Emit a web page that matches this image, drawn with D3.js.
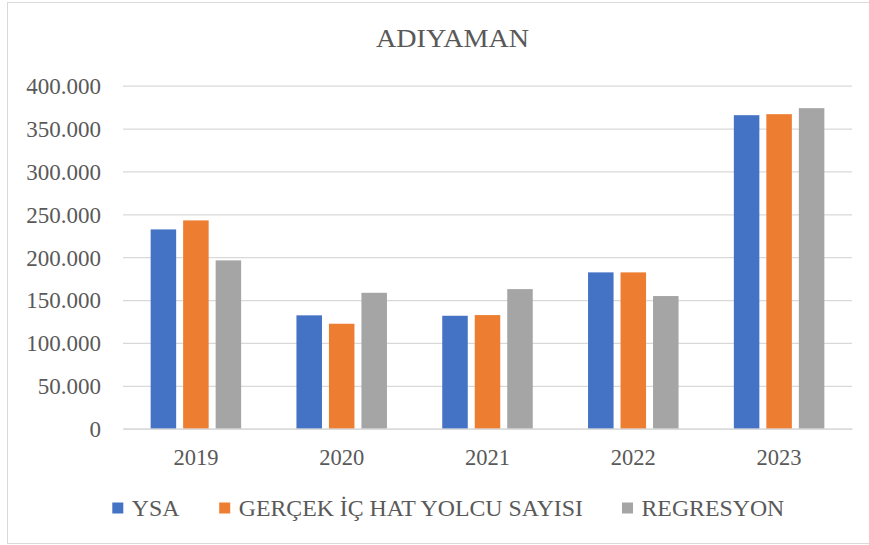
<!DOCTYPE html>
<html>
<head>
<meta charset="utf-8">
<script src="https://cdn.jsdelivr.net/npm/d3@7"></script>
<style>
  html, body { margin: 0; padding: 0; background: #fff; }
  svg { display: block; }
  text { font-family: "Liberation Serif", "Times New Roman", serif; fill: #595959; }
</style>
</head>
<body>
<svg id="chart" width="869" height="545"></svg>
<script>
// Yearly domestic passenger numbers for Adıyaman: ANN estimate, actual, regression
const years = ["2019", "2020", "2021", "2022", "2023"];
const seriesNames = ["YSA", "GERÇEK İÇ HAT YOLCU SAYISI", "REGRESYON"];
const ysaValues = [232400, 132200, 131700, 182300, 365600];
const actualValues = [242900, 122400, 132500, 182300, 366800];
const regressionValues = [196300, 158500, 162800, 154700, 373800];
const yTicks = [0, 50000, 100000, 150000, 200000, 250000, 300000, 350000, 400000];
const chartTitle = "ADIYAMAN";

const colors = ["#4472C4", "#ED7D31", "#A5A5A5"];
const seriesValues = [ysaValues, actualValues, regressionValues];

const svg = d3.select("#chart");
const W = 869, H = 545;
const plot = { left: 123, right: 852, top: 85.7, bottom: 428.7 };

// Outer chart border
svg.append("rect")
  .attr("x", 7.5).attr("y", 2.5)
  .attr("width", W).attr("height", H - 4)
  .attr("fill", "#fff").attr("stroke", "#d9d9d9").attr("stroke-width", 1);

// Title
svg.append("text")
  .attr("x", 452.5).attr("y", 47)
  .attr("text-anchor", "middle")
  .attr("textLength", 153)
  .attr("lengthAdjust", "spacingAndGlyphs")
  .style("font-size", "25px")
  .text(chartTitle);

const tr = d3.formatLocale({ decimal: ",", thousands: ".", grouping: [3], currency: ["", "₺"] });
const fmt = tr.format(",.0f");

const y = d3.scaleLinear().domain([0, 400000]).range([plot.bottom, plot.top]);
const x0 = d3.scaleBand().domain(years).range([plot.left, plot.right]).paddingInner(0).paddingOuter(0);
const groupW = 90.5;
const x1 = d3.scaleBand().domain(d3.range(seriesNames.length)).range([0, groupW]).paddingInner(0.215).paddingOuter(0);

// Horizontal gridlines and y-axis labels
const yAxis = d3.axisLeft(y)
  .tickValues(yTicks)
  .tickFormat(fmt)
  .tickSize(-(plot.right - plot.left))
  .tickPadding(22);

const gY = svg.append("g")
  .attr("transform", `translate(${plot.left},0)`)
  .call(yAxis);
gY.select(".domain").remove();
gY.selectAll(".tick line").attr("stroke", "#d9d9d9").attr("stroke-width", 1.3);
gY.selectAll(".tick text")
  .style("font-size", "23px")
  .attr("fill", "#595959")
  .attr("dy", "0.34em");

// Bars
const groups = svg.append("g").selectAll("g")
  .data(years)
  .join("g")
  .attr("transform", d => `translate(${x0(d) + (x0.bandwidth() - groupW) / 2},0)`);

groups.selectAll("rect")
  .data((d, i) => seriesValues.map((vals, s) => ({ s, v: vals[i] })))
  .join("rect")
  .attr("x", d => x1(d.s))
  .attr("width", x1.bandwidth())
  .attr("y", d => y(d.v))
  .attr("height", d => y(0) - y(d.v))
  .attr("fill", d => colors[d.s]);

// Category axis
const xAxis = d3.axisBottom(x0).tickSize(0).tickPadding(20);
const gX = svg.append("g")
  .attr("transform", `translate(0,${plot.bottom})`)
  .call(xAxis);
gX.select(".domain").attr("stroke", "#d9d9d9").attr("stroke-width", 1.3);
gX.selectAll(".tick text").style("font-size", "22.5px").attr("fill", "#595959");

// Legend: swatch, label, then a fixed gap before the next entry
const legend = svg.append("g");
const items = legend.selectAll("g").data(seriesNames).join("g");
items.append("rect")
  .attr("width", 11).attr("height", 11)
  .attr("y", -13.5)
  .attr("fill", (d, i) => colors[i]);
items.append("text")
  .attr("x", 19.5)
  .attr("y", 0)
  .style("font-size", "23.8px")
  .text(d => d);

let cx = 0;
const gap = 39;
const widths = [];
items.each(function () { widths.push(this.getBBox().width); });
const startX = 112.3;
items.attr("transform", (d, i) => {
  const t = `translate(${startX + cx},516)`;
  cx += widths[i] + gap;
  return t;
});
</script>
</body>
</html>
